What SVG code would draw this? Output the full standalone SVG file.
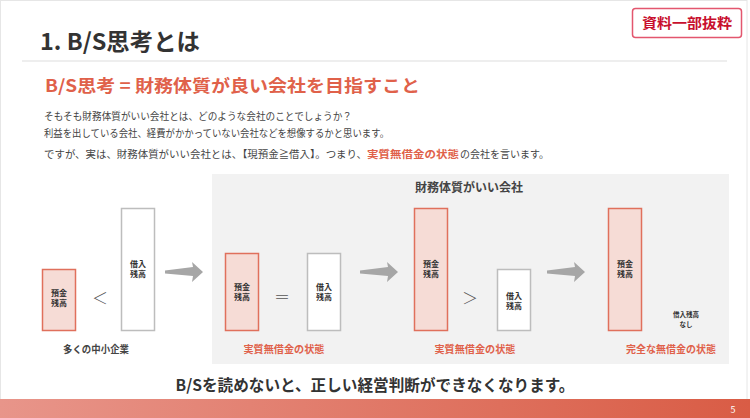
<svg xmlns="http://www.w3.org/2000/svg" width="750" height="418" viewBox="0 0 750 418">
<defs>
<linearGradient id="barGrad" x1="0" y1="0" x2="1" y2="0">
<stop offset="0" stop-color="#e8958a"/>
<stop offset="1" stop-color="#d95c45"/>
</linearGradient>
<path id="arr" d="M0,-1.5 L28,-5 L27,-10 L38,0 L27,10 L28,4 L0,1.5 Z"/>
</defs>
<style>
text{font-family:"Noto Sans CJK JP","Noto Sans",sans-serif}
.b{font-weight:700}
.dep{fill:#f6dcd6;stroke:#e0705c;stroke-width:1.5}
.loan{fill:#ffffff;stroke:#bdbdbd;stroke-width:1.5}
.bl{font-size:8px;font-weight:700;fill:#333;text-anchor:middle}
.cap{font-size:10px;font-weight:700;text-anchor:middle}
.red{fill:#e0614a}
.sym{font-size:16px;fill:#555;text-anchor:middle;font-weight:300}
.arrow{fill:#a6a6a6}
</style>
<rect x="0" y="0" width="750" height="418" fill="#ffffff"/>
<rect x="0.5" y="0.5" width="746.5" height="417" fill="none" stroke="#e6e6e6"/>
<g id="header">
<text x="40" y="50" font-size="23" font-weight="600" fill="#333" textLength="160" lengthAdjust="spacingAndGlyphs">1. B/S思考とは</text>
<line x1="22" y1="61" x2="727" y2="61" stroke="#dddddd" stroke-width="1.2"/>
<text x="45" y="92" font-size="17" class="b red" textLength="375" lengthAdjust="spacingAndGlyphs">B/S思考 = 財務体質が良い会社を目指すこと</text>
</g>
<g id="badge">
<rect x="632.5" y="8.5" width="109" height="29" rx="3" fill="#ffffff" stroke="#e3566e" stroke-width="1.5"/>
<text x="687" y="28" font-size="14" class="b" fill="#c8102e" text-anchor="middle" textLength="90" lengthAdjust="spacingAndGlyphs">資料一部抜粋</text>
</g>
<g id="body" font-size="10" fill="#444">
<text x="44" y="120" font-size="10" fill="#444" textLength="308" lengthAdjust="spacingAndGlyphs">そもそも財務体質がいい会社とは、どのような会社のことでしょうか？</text>
<text x="44" y="137" font-size="10" fill="#444" textLength="345" lengthAdjust="spacingAndGlyphs">利益を出している会社、経費がかかっていない会社などを想像するかと思います。</text>
<text x="44" y="158" font-size="10" fill="#444" textLength="323" lengthAdjust="spacingAndGlyphs">ですが、実は、財務体質がいい会社とは、【現預金≧借入】。つまり、</text>
<text x="367" y="158" font-size="10" class="b red" textLength="92" lengthAdjust="spacingAndGlyphs">実質無借金の状態</text>
<text x="460" y="158" font-size="10" fill="#444" textLength="89" lengthAdjust="spacingAndGlyphs">の会社を言います。</text>
</g>
<g id="panel">
<rect x="212" y="174" width="517" height="190" fill="#f2f2f2"/>
<text x="469" y="192" font-size="12" class="b" fill="#444" text-anchor="middle" textLength="108" lengthAdjust="spacingAndGlyphs">財務体質がいい会社</text>
</g>
<g id="stage1">
<rect class="dep" x="42.5" y="269.5" width="33" height="61"/>
<text class="bl" x="59" y="296">預金</text><text class="bl" x="59" y="306">残高</text>
<text class="sym" x="100" y="304">＜</text>
<rect class="loan" x="121.5" y="208.5" width="33" height="122"/>
<text class="bl" x="138" y="267">借入</text><text class="bl" x="138" y="277">残高</text>
<text class="cap" x="96" y="353" fill="#444" textLength="66" lengthAdjust="spacingAndGlyphs">多くの中小企業</text>
</g>
<g id="stage2">
<rect class="dep" x="225.5" y="253.5" width="33" height="77"/>
<text class="bl" x="242" y="290">預金</text><text class="bl" x="242" y="300">残高</text>
<text class="sym" x="282" y="303" fill="#666">＝</text>
<rect class="loan" x="307.5" y="253.5" width="33" height="77"/>
<text class="bl" x="324" y="290">借入</text><text class="bl" x="324" y="300">残高</text>
<text class="cap red" x="284" y="353" textLength="81" lengthAdjust="spacingAndGlyphs">実質無借金の状態</text>
</g>
<g id="stage3">
<rect class="dep" x="414.5" y="208.5" width="33" height="122"/>
<text class="bl" x="431" y="267">預金</text><text class="bl" x="431" y="277">残高</text>
<text class="sym" x="470" y="304">＞</text>
<rect class="loan" x="497.5" y="269.5" width="33" height="61"/>
<text class="bl" x="514" y="299">借入</text><text class="bl" x="514" y="309">残高</text>
<text class="cap red" x="475" y="353" textLength="81" lengthAdjust="spacingAndGlyphs">実質無借金の状態</text>
</g>
<g id="stage4">
<rect class="dep" x="608.5" y="208.5" width="33" height="122"/>
<text class="bl" x="625" y="267">預金</text><text class="bl" x="625" y="277">残高</text>
<text x="686" y="317" font-size="6.5" class="b" fill="#333" text-anchor="middle">借入残高</text>
<text x="686" y="327" font-size="6.5" class="b" fill="#333" text-anchor="middle">なし</text>
<text class="cap red" x="671" y="353" textLength="90" lengthAdjust="spacingAndGlyphs">完全な無借金の状態</text>
</g>
<g id="connectors" class="arrow">
<use href="#arr" x="165" y="272"/>
<use href="#arr" x="360" y="272"/>
<use href="#arr" x="547" y="272"/>
</g>
<g id="footer">
<text x="375" y="391" font-size="16" class="b" fill="#333" text-anchor="middle" textLength="399" lengthAdjust="spacingAndGlyphs">B/Sを読めないと、正しい経営判断ができなくなります。</text>
<rect x="0" y="399" width="750" height="19" fill="url(#barGrad)"/>
<text x="733" y="413" font-size="9" fill="#ffffff" text-anchor="middle">5</text>
</g>
</svg>
